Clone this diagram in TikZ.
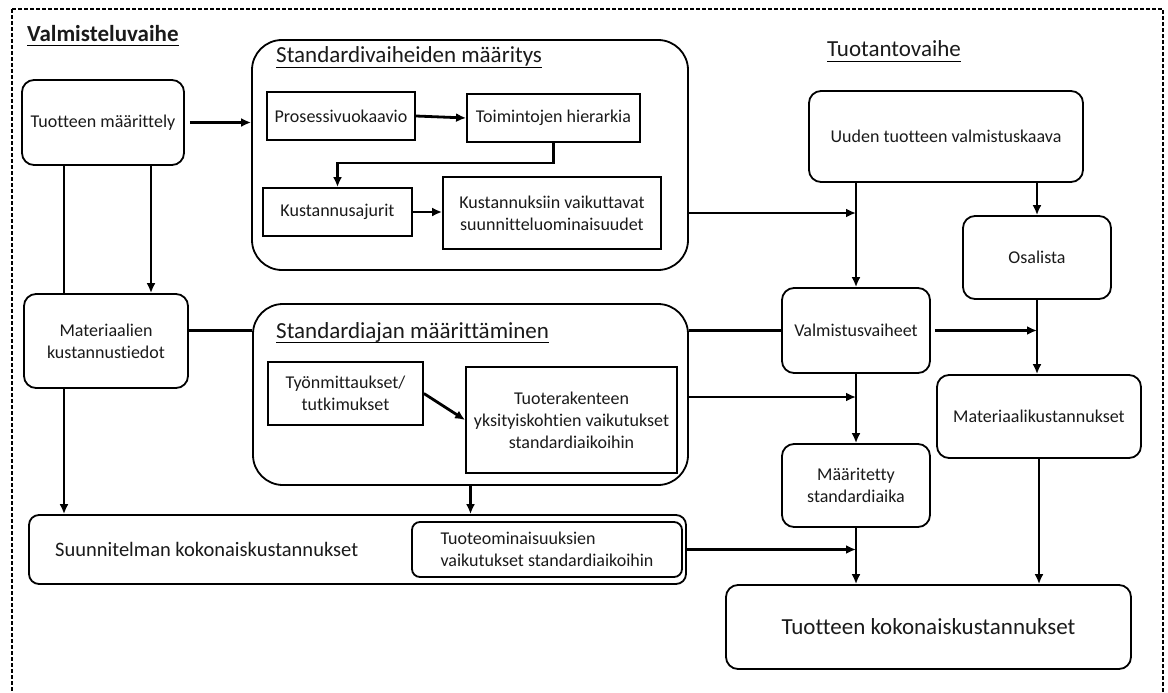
\documentclass[tikz,border=0pt]{standalone}
\usepackage{fontspec}
\setmainfont{Carlito}[Ligatures={NoCommon}]
\usetikzlibrary{arrows.meta}
\definecolor{txt}{HTML}{1A1A1A}
\begin{document}
\begin{tikzpicture}[x=1pt,y=-1pt,
  every node/.style={text=txt},
  rb/.style={draw, line width=1.8pt, rounded corners=12pt, fill=white, align=center,
    font=\fontsize{18}{22}\selectfont, inner sep=2pt},
  sb/.style={draw, line width=1.8pt, fill=white, align=center,
    font=\fontsize{18}{22}\selectfont, inner sep=2pt},
  bigbox/.style={draw, line width=1.8pt, rounded corners=30pt, fill=white},
  ttl/.style={anchor=base west, font=\fontsize{23}{28}\selectfont, inner sep=0pt},
  uline/.style={line width=1.5pt},
  conn/.style={line width=2.8pt},
  arr/.style={conn, -{Latex[length=10pt,width=9pt]}},
]
\useasboundingbox (0,0) rectangle (1168,693);
\begin{scope}
  \clip (0,0) rectangle (1168,693);
  \draw[line width=1.2pt, dash pattern=on 4pt off 2pt] (12,9) rectangle (1163,720);
\end{scope}

% titles
\node[ttl, font=\bfseries\fontsize{23}{28}\selectfont] (t1) at (27,42) {Valmisteluvaihe};
\draw[uline] ([yshift=-3.5pt]t1.base west) -- ([yshift=-3.5pt]t1.base east);
\node[ttl] (t4) at (827,57) {Tuotantovaihe};
\draw[uline] ([yshift=-4.5pt]t4.base west) -- ([yshift=-4.5pt]t4.base east);

% left column
\node[rb, minimum width=162pt, minimum height=85pt] (tm) at (103,122.5) {Tuotteen määrittely};
\node[rb, minimum width=164pt, minimum height=94pt] (mat) at (106,341) {Materiaalien\\kustannustiedot};

% Standardivaiheiden maaritys
\node[bigbox, minimum width=436pt, minimum height=230pt] (svm) at (470,155) {};
\node[ttl] (t2) at (276,63) {Standardivaiheiden määritys};
\draw[uline] ([yshift=-4.5pt]t2.base west) -- ([yshift=-4.5pt]t2.base east);
\node[sb, minimum width=148pt, minimum height=48pt] (pros) at (341,116) {Prosessivuokaavio};
\node[sb, minimum width=173pt, minimum height=48pt] (toim) at (553.5,118) {Toimintojen hierarkia};
\node[sb, minimum width=149pt, minimum height=48pt] (kust) at (337.5,212) {Kustannusajurit};
\node[sb, minimum width=218pt, minimum height=72pt] (kvs) at (552,213) {Kustannuksiin vaikuttavat\\suunnitteluominaisuudet};

% Standardiajan maarittaminen
\node[bigbox, minimum width=435pt, minimum height=181pt] (sam) at (470.5,394.5) {};
\node[ttl] (t3) at (276,338) {Standardiajan määrittäminen};
\draw[uline] ([yshift=-4.5pt]t3.base west) -- ([yshift=-4.5pt]t3.base east);
\node[sb, minimum width=155pt, minimum height=63pt] (tyo) at (345.5,393.5) {Työnmittaukset/\\tutkimukset};
\node[sb, minimum width=211pt, minimum height=106pt] (tuot) at (571.5,420) {Tuoterakenteen\\yksityiskohtien vaikutukset\\standardiaikoihin};

% Suunnitelman kokonaiskustannukset
\node[draw, line width=1.8pt, rounded corners=10pt, fill=white, minimum width=657pt, minimum height=69pt] (suu) at (357.5,549.5) {};
\node[anchor=west, inner sep=0pt, font=\fontsize{20.5}{24}\selectfont] (suut) at (55,549) {Suunnitelman kokonaiskustannukset};
\node[draw, line width=1.8pt, rounded corners=8pt, fill=white, align=left,
  font=\fontsize{18}{22}\selectfont, minimum width=270pt, minimum height=55pt] (tom) at (547,549.5)
  {Tuoteominaisuuksien\\vaikutukset standardiaikoihin};

% Tuotantovaihe
\node[rb, minimum width=274pt, minimum height=91pt] (uud) at (946,136.5) {Uuden tuotteen valmistuskaava};
\node[rb, minimum width=148pt, minimum height=83pt] (osa) at (1037,257.5) {Osalista};
\node[rb, minimum width=148pt, minimum height=85pt] (val) at (856,330.5) {Valmistusvaiheet};
\node[rb, minimum width=204pt, minimum height=83pt] (mak) at (1039,416.5) {Materiaalikustannukset};
\node[rb, minimum width=148pt, minimum height=83pt] (maa) at (856,485.5) {Määritetty\\standardiaika};
\node[rb, minimum width=405pt, minimum height=84pt, font=\fontsize{23}{28}\selectfont] (tk) at (928.5,627) {Tuotteen kokonaiskustannukset};

% junction coordinates
\coordinate (j1) at (val.north |- kvs.east);
\coordinate (j2) at (osa.south |- val.east);
\coordinate (j3) at (856,397);
\coordinate (j4) at (val.south |- suu.east);

% connectors
\draw[arr, shorten <=5pt] (tm.east) -- (tm.east -| svm.west);
\draw[arr] (pros.east) -- (toim.west);
\draw[arr] (toim.south) -- ++(0,20) -| (kust.north);
\draw[arr] (kust.east) -- (kust.east -| kvs.west);
\draw[arr] (svm.east |- j1) -- (j1);
\draw[arr] (tyo.east) -- (tuot.west);

\draw[conn] ([xshift=-39pt]tm.south) -- ([xshift=-39pt]tm.south |- mat.north);
\draw[arr] ([xshift=48pt]tm.south) -- ([xshift=48pt]tm.south |- mat.north);
\draw[arr] ([xshift=-42pt]mat.south) -- ([xshift=-42pt]mat.south |- suu.north);
\draw[conn] (mat.east |- val.west) -- (sam.west |- val.west);
\draw[conn] (sam.east |- val.west) -- (val.west);
\draw[arr] (sam.south) -- (sam.south |- suu.north);
\draw[arr] (sam.east |- j3) -- (j3);
\draw[arr] (suu.east) -- (j4);

\draw[arr] (val.north |- uud.south) -- (val.north);
\draw[arr] (osa.north |- uud.south) -- (osa.north);
\draw[arr] (osa.south) -- (osa.south |- mak.north);
\draw[arr, shorten <=4pt] (val.east) -- (j2);
\draw[arr] (val.south) -- (maa.north);
\draw[arr] (maa.south) -- (maa.south |- tk.north);
\draw[arr] (mak.south) -- (mak.south |- tk.north);
\end{tikzpicture}
\end{document}
